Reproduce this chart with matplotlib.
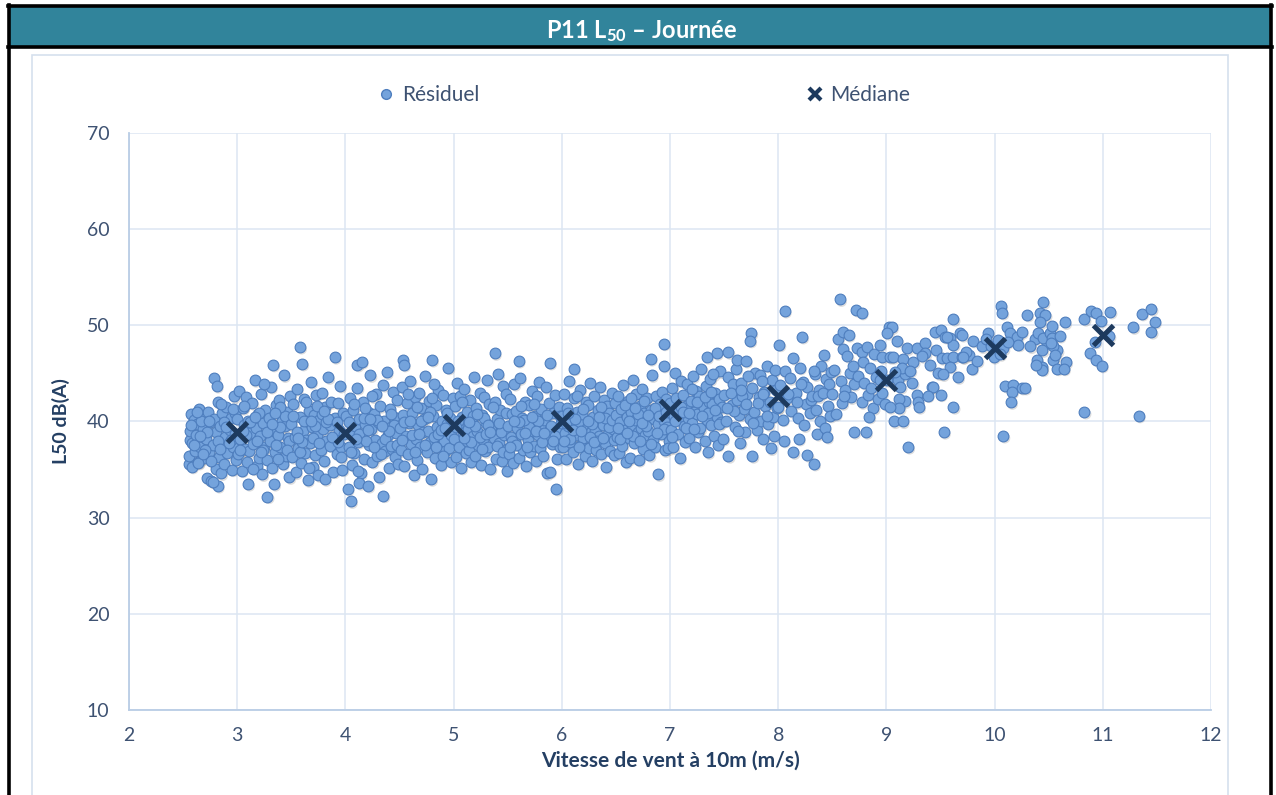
import numpy as np
import matplotlib.pyplot as plt
import matplotlib.transforms as mtransforms
from matplotlib.patches import Rectangle
from matplotlib.lines import Line2D

plt.rcParams['font.family'] = ['Lato', 'DejaVu Sans']
plt.rcParams['mathtext.fontset'] = 'custom'
plt.rcParams['mathtext.bf'] = 'Lato:bold'
plt.rcParams['mathtext.rm'] = 'Lato:bold'

# --- data (wind speed m/s, L50 dB(A)) ---
median_x = [3, 4, 5, 6, 7, 8, 9, 10, 11]
median_y = [38.9, 38.8, 39.6, 40.05, 41.2, 42.65, 44.3, 47.6, 49.0]

pts_25_30 = [(2.55,35.6),(2.55,36.4),(2.56,38.1),(2.56,39.0),(2.57,40.8),(2.58,35.3),(2.58,37.8),(2.60,40.2),
    (2.61,36.9),(2.62,38.6),(2.63,39.7),(2.64,35.8),(2.65,41.3),(2.66,37.4),(2.68,39.2),(2.69,36.2),(2.70,40.6),
    (2.71,38.2),(2.72,34.1),(2.73,41.0),(2.74,36.8),(2.75,39.9),(2.76,33.8),(2.79,44.5),(2.81,43.7),(2.78,37.6),
    (2.79,40.3),(2.80,35.1),(2.80,38.9),(2.82,33.3),(2.82,42.0),(2.83,36.3),(2.84,39.5),(2.85,34.6),(2.86,40.9),
    (2.87,37.9),(2.88,35.6),(2.89,38.4),(2.90,41.5),(2.91,36.7),(2.78,33.7),(2.93,39.1),(2.94,40.4),(2.95,35.0),
    (2.96,37.3),(2.97,42.6),(2.98,38.7),(2.99,36.0),(2.60,37.6),(2.67,40.1),(2.72,38.9),(2.85,41.8),(2.76,35.9),
    (2.94,38.1),(2.88,39.9),(2.63,41.0),(2.64,35.7),(2.70,37.0),(2.92,37.8),(2.57,39.6),(2.66,38.5),(2.74,40.0),
    (2.82,38.0),(2.90,39.4),(2.98,40.9),(2.68,36.6),(2.84,37.1),(2.96,41.3)]

pts_30_35 = [(3.00,40.3),(3.01,36.6),(3.02,43.2),(3.03,38.2),(3.04,34.9),(3.05,41.4),(3.06,39.6),(3.07,37.1),
    (3.08,42.5),(3.09,35.8),(3.10,40.0),(3.11,36.9),(3.12,38.8),(3.10,33.5),(3.14,41.9),(3.15,37.7),(3.16,44.3),
    (3.17,39.3),(3.18,35.4),(3.19,40.8),(3.20,36.2),(3.21,38.5),(3.22,42.9),(3.23,34.5),(3.24,39.8),(3.25,37.4),
    (3.26,41.2),(3.28,32.2),(3.28,36.0),(3.29,40.4),(3.30,38.0),(3.31,43.6),(3.32,35.2),(3.33,45.9),(3.34,39.1),
    (3.35,36.8),(3.36,41.7),(3.34,33.5),(3.38,38.6),(3.39,42.2),(3.40,37.3),(3.41,40.1),(3.42,35.6),(3.43,44.8),
    (3.44,39.5),(3.45,36.4),(3.46,41.0),(3.47,38.3),(3.48,34.2),(3.49,42.7),(3.03,37.0),(3.12,39.9),(3.20,40.9),
    (3.28,38.9),(3.36,37.6),(3.44,40.6),(3.15,35.1),(3.38,36.1),(3.06,41.6),(3.25,43.9),(3.18,38.0),(3.40,39.4),
    (3.08,38.6),(3.16,40.5),(3.24,37.0),(3.32,39.7),(3.40,41.5),(3.48,38.0),(3.05,39.0),(3.22,36.8),(3.35,40.9),
    (3.46,37.0)]

pts_35_40 = [(3.50,39.7),(3.51,36.3),(3.52,41.8),(3.53,38.4),(3.54,34.7),(3.55,43.4),(3.56,37.2),(3.58,47.75),
    (3.58,40.5),(3.59,35.7),(3.60,46.0),(3.61,39.0),(3.62,42.3),(3.63,36.7),(3.64,38.1),(3.65,33.9),(3.66,41.1),
    (3.67,37.8),(3.68,44.1),(3.69,39.4),(3.70,35.3),(3.71,40.7),(3.72,36.5),(3.73,42.8),(3.74,38.6),(3.75,34.4),
    (3.76,40.2),(3.77,37.0),(3.78,43.0),(3.79,39.2),(3.80,35.9),(3.81,41.5),(3.82,38.0),(3.81,34.0),(3.84,44.6),
    (3.85,39.8),(3.86,37.5),(3.87,42.0),(3.90,46.7),(3.89,34.8),(3.90,40.4),(3.91,38.3),(3.92,36.6),(3.93,41.9),
    (3.94,39.1),(3.95,43.7),(3.96,37.4),(3.97,35.0),(3.98,40.9),(3.99,38.7),(3.55,38.9),(3.62,40.0),(3.70,38.3),
    (3.78,40.8),(3.86,39.6),(3.93,37.9),(3.58,36.8),(3.74,41.6),(3.82,39.9),(3.66,35.2),(3.72,39.5),(3.88,38.4),
    (3.52,40.6),(3.60,37.9),(3.68,40.1),(3.76,37.8),(3.84,40.3),(3.92,39.9),(3.64,42.0),(3.80,41.1),(3.96,36.3),
    (3.56,38.3)]

pts_40_45 = [(4.02,33.0),(4.01,40.6),(4.05,31.7),(4.03,37.3),(4.04,42.4),(4.05,38.9),(4.06,35.5),(4.07,41.2),
    (4.08,36.7),(4.09,39.5),(4.11,45.9),(4.11,43.5),(4.12,37.9),(4.13,40.3),(4.14,34.6),(4.15,38.4),(4.16,42.0),
    (4.17,36.1),(4.18,39.7),(4.13,33.6),(4.15,46.2),(4.21,41.0),(4.22,37.6),(4.23,44.8),(4.24,39.2),(4.25,35.8),
    (4.26,40.8),(4.27,38.1),(4.28,42.9),(4.29,36.4),(4.30,39.9),(4.31,34.2),(4.32,41.6),(4.35,32.3),(4.34,37.8),
    (4.35,43.8),(4.36,40.1),(4.37,36.9),(4.38,45.1),(4.39,38.6),(4.40,35.2),(4.41,41.3),(4.42,39.4),(4.43,37.1),
    (4.44,43.1),(4.45,40.5),(4.46,36.3),(4.47,38.8),(4.48,42.2),(4.49,35.6),(4.05,36.8),(4.13,38.7),(4.21,39.1),
    (4.29,40.2),(4.37,38.2),(4.45,39.6),(4.08,41.8),(4.17,40.4),(4.33,36.6),(4.42,37.5),(4.25,42.6),(4.12,34.9),
    (4.21,33.3),(4.19,38.0),(4.40,39.0),(4.03,39.9),(4.10,38.2),(4.18,41.4),(4.26,37.4),(4.34,39.5),(4.42,40.8),
    (4.48,37.6),(4.23,40.3)]

pts_45_50 = [(4.50,39.3),(4.51,37.0),(4.52,43.6),(4.53,40.7),(4.54,35.4),(4.53,46.4),(4.54,45.9),(4.56,38.5),
    (4.57,41.9),(4.58,36.6),(4.59,39.8),(4.60,44.2),(4.61,37.7),(4.62,40.9),(4.63,34.4),(4.64,42.5),(4.65,38.2),
    (4.66,36.0),(4.67,39.6),(4.68,43.0),(4.69,37.3),(4.70,41.4),(4.71,35.1),(4.72,38.9),(4.73,40.3),(4.74,44.7),
    (4.75,36.8),(4.76,39.0),(4.77,42.1),(4.78,37.9),(4.79,34.0),(4.80,46.4),(4.81,40.6),(4.82,38.4),(4.83,36.2),
    (4.84,41.7),(4.85,39.4),(4.86,43.3),(4.87,37.5),(4.88,35.5),(4.89,40.0),(4.90,42.8),(4.91,38.0),(4.92,36.9),
    (4.93,41.2),(4.94,39.7),(4.95,45.6),(4.96,37.2),(4.97,40.4),(4.98,35.8),(4.99,42.4),(4.54,39.9),(4.62,38.6),
    (4.70,40.1),(4.78,41.0),(4.86,38.7),(4.94,40.9),(4.58,42.9),(4.66,41.5),(4.74,37.6),(4.90,36.4),(4.82,43.9),
    (4.60,40.0),(4.88,39.1),(4.52,38.1),(4.68,38.7),(4.76,40.5),(4.84,37.3),(4.92,39.3),(4.98,38.6),(4.64,36.8),
    (4.80,42.4)]

pts_50_55 = [(5.00,38.2),(5.01,41.6),(5.02,36.3),(5.03,44.0),(5.04,39.6),(5.05,37.4),(5.06,42.7),(5.07,35.2),
    (5.08,40.5),(5.09,38.8),(5.10,43.4),(5.11,36.7),(5.12,41.0),(5.13,39.2),(5.14,37.0),(5.15,42.2),(5.16,35.8),
    (5.17,40.1),(5.18,38.5),(5.19,44.6),(5.20,36.4),(5.21,41.4),(5.22,39.0),(5.23,37.6),(5.24,43.0),(5.25,35.5),
    (5.26,40.7),(5.27,38.1),(5.28,42.5),(5.29,36.9),(5.30,39.8),(5.31,44.3),(5.32,37.3),(5.33,41.8),(5.34,35.1),
    (5.38,47.1),(5.36,39.4),(5.37,38.3),(5.38,42.0),(5.39,36.1),(5.40,40.3),(5.41,44.9),(5.42,37.8),(5.43,41.2),
    (5.44,39.1),(5.45,35.9),(5.46,43.7),(5.47,38.6),(5.48,40.9),(5.49,37.1),(5.04,40.0),(5.12,38.0),(5.20,39.5),
    (5.28,40.4),(5.36,41.5),(5.44,38.9),(5.08,42.0),(5.16,37.9),(5.24,38.4),(5.32,39.6),(5.40,37.5),(5.48,42.9),
    (5.49,34.9),(5.18,40.6),(5.30,38.7),(5.02,39.4),(5.10,38.3),(5.22,40.8),(5.34,38.9),(5.42,39.8),(5.46,36.8),
    (5.14,39.9),(5.26,37.1)]

pts_55_60 = [(5.50,39.5),(5.51,36.6),(5.52,42.3),(5.53,38.4),(5.54,40.8),(5.55,35.7),(5.56,43.9),(5.57,37.9),
    (5.58,41.1),(5.59,39.3),(5.60,36.2),(5.61,44.5),(5.62,38.7),(5.63,40.4),(5.64,37.0),(5.60,46.3),(5.66,42.0),
    (5.67,35.4),(5.68,39.9),(5.69,38.1),(5.70,41.7),(5.71,36.8),(5.72,43.2),(5.73,39.0),(5.74,37.5),(5.75,40.6),
    (5.76,35.9),(5.77,42.6),(5.78,38.6),(5.79,44.1),(5.80,37.2),(5.81,41.3),(5.82,39.6),(5.83,36.4),(5.84,40.2),
    (5.85,43.6),(5.86,38.2),(5.86,34.6),(5.88,41.9),(5.89,39.2),(5.89,46.1),(5.91,37.7),(5.92,40.9),(5.89,34.8),
    (5.94,42.8),(5.95,33.0),(5.96,38.9),(5.97,41.5),(5.98,37.3),(5.99,39.8),(5.54,38.0),(5.62,41.6),(5.70,39.4),
    (5.78,40.1),(5.86,40.7),(5.94,38.5),(5.58,37.6),(5.66,38.8),(5.74,41.8),(5.82,37.9),(5.90,39.5),(5.65,40.2),
    (5.96,36.1),(5.52,37.4),(5.60,39.9),(5.68,37.4),(5.76,39.0),(5.84,38.8),(5.92,38.0),(5.98,40.6),(5.72,40.5),
    (5.56,40.1)]

pts_60_65 = [(6.00,40.6),(6.01,37.4),(6.02,42.9),(6.03,38.8),(6.04,36.1),(6.05,41.4),(6.06,39.5),(6.07,44.2),
    (6.08,37.9),(6.09,40.2),(6.10,36.8),(6.11,42.4),(6.11,45.5),(6.13,38.6),(6.14,41.0),(6.15,35.6),(6.16,39.9),
    (6.17,43.3),(6.18,37.6),(6.19,40.8),(6.20,38.3),(6.21,36.4),(6.22,42.0),(6.23,39.3),(6.24,41.7),(6.25,37.2),
    (6.26,44.0),(6.27,38.9),(6.28,35.9),(6.29,40.5),(6.30,42.7),(6.31,39.0),(6.32,37.0),(6.33,41.2),(6.34,38.5),
    (6.35,43.6),(6.36,36.6),(6.37,40.0),(6.38,39.6),(6.39,42.2),(6.40,37.8),(6.41,35.3),(6.42,41.6),(6.43,38.7),
    (6.44,40.9),(6.45,36.9),(6.46,43.0),(6.47,39.2),(6.48,38.1),(6.49,41.9),(6.04,39.8),(6.12,40.3),(6.20,41.3),
    (6.28,39.7),(6.36,41.5),(6.44,39.4),(6.08,38.2),(6.16,37.3),(6.24,40.1),(6.32,38.0),(6.40,40.4),(6.48,36.5),
    (6.26,38.4),(6.06,40.9),(6.02,38.0),(6.10,39.1),(6.18,39.0),(6.30,37.9),(6.38,38.3),(6.46,40.2),(6.14,42.6),
    (6.34,40.5)]

pts_65_70 = [(6.50,40.7),(6.51,38.4),(6.52,42.6),(6.53,36.7),(6.54,39.9),(6.55,41.3),(6.56,37.5),(6.57,43.8),
    (6.58,39.1),(6.59,35.8),(6.60,40.5),(6.61,42.1),(6.62,38.3),(6.63,36.2),(6.64,41.0),(6.65,39.6),(6.66,44.3),
    (6.67,37.8),(6.68,40.2),(6.69,42.9),(6.70,38.9),(6.71,36.0),(6.72,41.6),(6.73,39.3),(6.74,43.4),(6.75,37.1),
    (6.76,40.9),(6.77,38.6),(6.82,46.5),(6.79,42.4),(6.80,39.0),(6.81,36.5),(6.82,41.2),(6.83,44.8),(6.84,38.1),
    (6.85,40.3),(6.86,37.4),(6.87,42.7),(6.89,34.5),(6.89,39.7),(6.94,48.1),(6.91,41.8),(6.92,38.7),(6.93,43.1),
    (6.94,40.0),(6.95,37.0),(6.96,42.3),(6.97,39.4),(6.94,45.8),(6.99,38.0),(6.54,38.2),(6.62,40.0),(6.70,40.8),
    (6.78,39.5),(6.86,41.4),(6.94,39.2),(6.58,41.7),(6.66,38.5),(6.74,39.8),(6.82,37.7),(6.90,40.6),(6.98,37.2),
    (6.68,41.4),(6.52,39.3),(6.60,38.8),(6.72,38.0),(6.80,40.7),(6.88,38.8),(6.96,41.0),(6.64,42.4),(6.76,42.1)]

pts_70_75 = [(7.00,41.9),(7.01,39.1),(7.02,43.5),(7.03,37.3),(7.04,40.6),(7.05,45.0),(7.06,42.4),(7.07,38.7),
    (7.08,41.2),(7.09,36.2),(7.10,44.2),(7.11,40.0),(7.12,42.8),(7.13,39.5),(7.14,37.9),(7.15,41.6),(7.16,43.9),
    (7.17,40.4),(7.18,38.3),(7.19,42.1),(7.20,39.8),(7.21,44.7),(7.22,41.0),(7.23,37.4),(7.24,43.2),(7.25,40.8),
    (7.26,38.9),(7.27,42.6),(7.28,39.3),(7.29,45.5),(7.34,46.7),(7.31,41.4),(7.32,38.0),(7.33,43.7),(7.34,40.2),
    (7.35,36.8),(7.36,42.0),(7.37,44.4),(7.38,39.6),(7.39,41.8),(7.43,47.1),(7.41,38.5),(7.42,43.0),(7.43,40.5),
    (7.44,37.6),(7.45,42.3),(7.46,45.2),(7.47,39.9),(7.48,41.5),(7.49,38.2),(7.05,40.1),(7.15,39.3),(7.25,42.0),
    (7.35,40.9),(7.45,39.7),(7.10,41.5),(7.20,43.4),(7.30,40.6),(7.40,44.9),(7.02,38.4),(7.12,41.0),(7.22,39.2),
    (7.32,42.5),(7.42,41.2),(7.18,40.9),(7.38,43.1)]

pts_75_80 = [(7.50,42.8),(7.52,40.1),(7.54,44.6),(7.54,36.4),(7.54,47.2),(7.57,41.7),(7.58,43.9),(7.60,39.4),
    (7.61,45.5),(7.62,42.2),(7.62,46.4),(7.64,40.7),(7.65,37.8),(7.66,44.0),(7.68,41.3),(7.69,38.9),(7.70,46.3),
    (7.71,42.9),(7.75,49.2),(7.74,48.4),(7.74,40.3),(7.76,36.4),(7.76,43.5),(7.78,41.0),(7.79,45.0),(7.80,39.1),
    (7.82,42.5),(7.83,44.8),(7.84,40.0),(7.86,38.2),(7.87,43.1),(7.88,41.6),(7.90,45.8),(7.91,39.7),(7.92,42.0),
    (7.94,44.3),(7.95,40.5),(7.96,38.5),(7.98,43.3),(7.99,41.4),(7.59,41.1),(7.67,42.6),(7.77,39.8),(7.85,44.2),
    (7.93,37.2),(7.56,43.0),(7.72,44.7),(7.81,41.9),(7.97,45.4),(7.63,39.0),(7.53,41.4),(7.70,41.8),(7.86,42.9),
    (7.90,40.6),(7.66,43.3)]

pts_80_85 = [(8.00,41.5),(8.02,43.8),(8.04,40.2),(8.06,51.5),(8.06,45.2),(8.08,42.4),(8.05,38.0),(8.11,44.5),
    (8.12,41.1),(8.01,48.0),(8.14,36.8),(8.16,43.0),(8.18,40.4),(8.19,38.2),(8.20,45.6),(8.22,48.8),(8.23,44.1),
    (8.24,39.6),(8.26,41.8),(8.27,43.6),(8.27,36.5),(8.29,40.9),(8.30,42.2),(8.31,42.7),(8.33,35.6),(8.34,44.9),
    (8.35,41.2),(8.36,38.7),(8.38,43.3),(8.39,40.0),(8.40,45.8),(8.42,46.9),(8.43,39.3),(8.44,44.4),(8.46,41.6),
    (8.47,43.9),(8.48,40.6),(8.49,45.1),(8.09,42.9),(8.21,43.9),(8.37,42.6),(8.45,38.4),(8.14,46.6),(8.33,45.3),
    (8.17,42.0),(8.41,43.0)]

pts_85_90 = [(8.50,42.9),(8.52,45.4),(8.53,40.8),(8.55,48.6),(8.57,52.7),(8.58,44.2),(8.59,41.9),(8.60,49.3),
    (8.60,47.5),(8.62,43.3),(8.65,49.0),(8.64,46.8),(8.66,45.0),(8.67,42.5),(8.73,47.6),(8.70,43.9),(8.70,38.9),
    (8.77,47.2),(8.72,51.6),(8.74,44.7),(8.77,51.3),(8.77,42.0),(8.78,46.2),(8.79,44.0),(8.81,38.9),(8.82,47.7),
    (8.83,42.8),(8.85,45.6),(8.86,43.5),(8.88,41.4),(8.89,47.0),(8.90,44.6),(8.92,42.3),(8.94,48.0),(8.95,45.2),
    (8.96,43.0),(8.96,46.7),(8.99,41.8),(8.61,42.6),(8.69,45.8),(8.84,40.5),(8.94,44.3)]

pts_90_95 = [(9.02,49.8),(9.05,49.8),(9.01,49.2),(9.03,46.7),(9.06,46.7),(9.15,46.5),(9.25,46.2),(9.19,47.6),
    (9.28,47.6),(9.36,48.2),(9.36,47.1),(9.45,49.3),(9.48,45.0),(9.42,43.6),(9.43,43.6),(9.28,42.8),(9.29,42.0),
    (9.30,41.5),(9.17,42.1),(9.12,42.3),(9.12,41.4),(9.03,41.5),(9.07,40.0),(9.15,40.0),(9.20,37.35),(9.01,44.3),
    (9.11,44.3),(9.13,43.6),(9.17,44.9),(9.14,45.6),(9.08,45.1),(9.22,45.3),(9.33,46.8),(9.40,45.9),(9.10,48.4),
    (9.24,44.0),(9.38,42.7),(9.46,47.4)]

pts_95_100 = [(9.50,49.5),(9.54,48.8),(9.59,48.7),(9.62,50.65),(9.62,48.0),(9.51,46.6),(9.56,46.6),(9.62,46.7),
    (9.70,46.7),(9.76,46.9),(9.74,47.2),(9.59,45.7),(9.66,44.6),(9.79,45.5),(9.52,44.9),(9.50,42.8),(9.62,41.5),
    (9.53,38.9),(9.80,48.4),(9.88,47.8),(9.94,49.2),(9.68,49.2),(9.70,49.0),(9.56,48.8),(9.99,46.7),(9.71,46.7),
    (9.84,46.3),(9.92,48.6),(9.97,47.9)]

pts_100_105 = [(10.03,48.5),(10.11,49.8),(10.14,49.2),(10.21,48.8),(10.25,49.3),(10.22,48.0),(10.08,47.6),
    (10.06,52.0),(10.07,51.3),(10.30,51.1),(10.42,51.3),(10.47,51.1),(10.42,50.3),(10.45,52.4),(10.10,43.7),
    (10.17,43.8),(10.25,43.5),(10.28,43.5),(10.16,43.1),(10.15,42.0),(10.08,38.5),(10.37,48.6),(10.39,46.4),
    (10.44,45.7),(10.44,45.4),(10.48,48.8),(10.48,48.2),(10.44,47.4),(10.40,49.2),(10.45,48.7),(10.05,47.0),
    (10.12,48.3),(10.33,47.8),(10.38,45.9)]

pts_105_115 = [(10.51,49.2),(10.53,48.7),(10.54,46.4),(10.58,47.4),(10.58,45.5),(10.54,47.9),(10.52,48.2),
    (10.53,49.9),(10.65,50.3),(10.83,50.65),(10.89,51.5),(10.94,51.3),(10.98,50.45),(11.07,51.4),(10.88,47.1),
    (10.94,46.4),(10.99,45.8),(10.83,41.0),(10.66,46.2),(10.64,45.5),(10.93,48.3),(11.06,48.9),(11.28,49.8),
    (11.36,51.2),(11.45,51.7),(11.48,50.35),(11.45,49.3),(11.33,40.6),(10.60,48.9),(10.56,46.9)]

bands = [pts_25_30, pts_30_35, pts_35_40, pts_40_45, pts_45_50, pts_50_55, pts_55_60, pts_60_65,
         pts_65_70, pts_70_75, pts_75_80, pts_80_85, pts_85_90, pts_90_95, pts_95_100, pts_100_105, pts_105_115]
res = np.array([p for band in bands for p in band])

W, H = 1276, 795
fig = plt.figure(figsize=(W / 100, H / 100), dpi=100)


def fx(px):
    return px / W


def fy(py):
    return 1 - py / H


# frame: title bar, black borders, light chart area border
fig.add_artist(Rectangle((fx(8), fy(47)), fx(1272) - fx(8), fy(6) - fy(47),
                         facecolor='#31849B', edgecolor='none'))
for xs, ys in [([8, 1272], [6, 6]), ([8, 1272], [47, 47]), ([9, 9], [5, 800]), ([1271, 1271], [5, 800])]:
    fig.add_artist(Line2D([fx(x) for x in xs], [fy(y) for y in ys], color='black', lw=2.6))
fig.add_artist(Rectangle((fx(32), fy(800)), fx(1228) - fx(32), fy(55) - fy(800),
                         facecolor='none', edgecolor='#D5E0EE', lw=1.2))
fig.text(fx(641), fy(31), r'P11 L$\mathbf{_{50}}$ – Journée', color='white', fontsize=17,
         fontweight='bold', ha='center', va='center')

ax = fig.add_axes([fx(129), fy(710), fx(1211) - fx(129), fy(133) - fy(710)])

shadow = ax.transData + mtransforms.ScaledTranslation(1.2 / 72, -1.6 / 72, fig.dpi_scale_trans)
ax.scatter(res[:, 0], res[:, 1], s=60, c='#000000', alpha=0.13, edgecolors='none', transform=shadow, zorder=2)
ax.scatter(res[:, 0], res[:, 1], s=60, c='#74A3DC', edgecolors='#4E7EBE', linewidths=0.8, zorder=3,
           label='Résiduel')
ax.plot(median_x, median_y, linestyle='none', marker='x', markersize=15, mew=3.6, color='#1D3A5E',
        zorder=4, label='Médiane')

ax.set_xlim(2, 12)
ax.set_ylim(10, 70)
ax.set_xticks(range(2, 13))
ax.set_yticks(range(10, 71, 10))
ax.grid(True, color='#DCE6F2', lw=1.1)
ax.set_axisbelow(True)
for s in ['top', 'right']:
    ax.spines[s].set_visible(False)
for s in ['left', 'bottom']:
    ax.spines[s].set_color('#B9CDE5')
    ax.spines[s].set_linewidth(1.3)
ax.tick_params(length=0, labelsize=14, colors='#3E5272', pad=14)
ax.tick_params(axis='x', pad=12)

ax.set_xlabel('Vitesse de vent à 10m (m/s)', fontsize=15, fontweight='bold', color='#243F63', labelpad=5)
ax.set_ylabel('L50 dB(A)', fontsize=14, fontweight='bold', color='#243F63', labelpad=12)

h, l = ax.get_legend_handles_labels()
leg_h = [Line2D([], [], linestyle='none', marker='o', markersize=7, markerfacecolor='#74A3DC',
                markeredgecolor='#4E7EBE'),
         Line2D([], [], linestyle='none', marker='x', markersize=9, mew=3, color='#1D3A5E')]
fig.legend(leg_h, l, loc='center', bbox_to_anchor=(fx(642), fy(95)), ncol=2, frameon=False,
           fontsize=15, columnspacing=15.5, handletextpad=0.15, handlelength=1.2, labelcolor='#3E5272')

fig.savefig('out.png', dpi=100)
